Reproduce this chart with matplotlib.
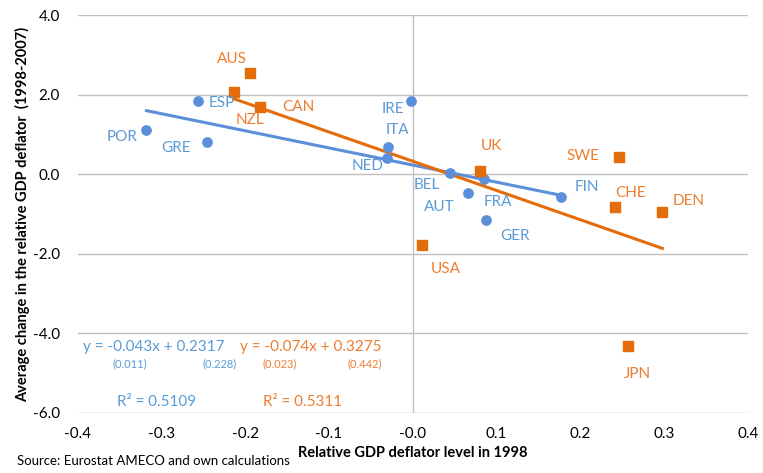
import numpy as np
import matplotlib
matplotlib.use("Agg")
import matplotlib.pyplot as plt

plt.rcParams['font.family'] = ['Lato', 'DejaVu Sans']

# euro area countries (blue) and others (orange)
blue_names = ['POR', 'GRE', 'ESP', 'IRE', 'ITA', 'NED', 'BEL', 'AUT', 'FRA', 'GER', 'FIN']
blue_x = [-0.318, -0.246, -0.256, -0.002, -0.030, -0.031, 0.045, 0.066, 0.085, 0.087, 0.177]
blue_y = [1.11, 0.80, 1.83, 1.83, 0.68, 0.40, 0.03, -0.48, -0.13, -1.16, -0.58]

orange_names = ['AUS', 'NZL', 'CAN', 'UK', 'SWE', 'CHE', 'DEN', 'USA', 'JPN']
orange_x = [-0.194, -0.214, -0.182, 0.080, 0.246, 0.241, 0.298, 0.011, 0.257]
orange_y = [2.54, 2.06, 1.70, 0.075, 0.43, -0.83, -0.95, -1.78, -4.32]

# label offsets in pixels
blue_off = [(-24, -7), (-31, -6), (23, -2), (-18, -8), (10, 17), (-19, -8), (-24, -12), (-29, -14), (14, -23), (29, -16), (26, 10)]
orange_off = [(-18, 14), (16, -28), (38, 0), (12, 25), (-36, 1), (16, 14), (26, 11), (24, -24), (9, -28)]

# trend lines (x in percent)
blue_fit = (-4.3, 0.2317)
orange_fit = (-7.35, 0.3275)

c_blue = '#5B8FD9'
c_orange = '#E46C0A'
t_blue = '#5B9BD5'
t_orange = '#ED7D31'

fig = plt.figure(figsize=(7.63, 4.73), dpi=100)
ax = fig.add_axes([0.102, 0.127, 0.878, 0.841])

ax.set_xlim(-0.4, 0.4)
ax.set_ylim(-6, 4)
ax.set_xticks(np.arange(-0.4, 0.41, 0.1))
ax.set_yticks(np.arange(-6, 4.1, 2))
ax.set_xticklabels([f'{v:.1f}' for v in np.arange(-0.4, 0.41, 0.1)])
ax.set_yticklabels([f'{v:.1f}' for v in np.arange(-6, 4.1, 2)])
ax.tick_params(axis='x', length=0, labelsize=11, pad=10)
ax.tick_params(axis='y', length=0, labelsize=11, pad=13)
ax.grid(axis='y', color='#BFBFBF', lw=1)
ax.axvline(0, color='#BFBFBF', lw=1)
for s in ax.spines.values():
    s.set_visible(False)
ax.set_axisbelow(True)

xb = np.array([min(blue_x), max(blue_x)])
ax.plot(xb, blue_fit[0] * xb + blue_fit[1], color=c_blue, lw=2.2)
xo = np.array([min(orange_x), max(orange_x)])
ax.plot(xo, orange_fit[0] * xo + orange_fit[1], color=c_orange, lw=2.2)

ax.scatter(blue_x, blue_y, s=45, color=c_blue, zorder=3)
ax.scatter(orange_x, orange_y, s=50, marker='s', color=c_orange, zorder=3)

for n, x, y, o in zip(blue_names, blue_x, blue_y, blue_off):
    ax.annotate(n, (x, y), xytext=o, textcoords='offset pixels', ha='center', va='center',
                color=t_blue, fontsize=11)
for n, x, y, o in zip(orange_names, orange_x, orange_y, orange_off):
    ax.annotate(n, (x, y), xytext=o, textcoords='offset pixels', ha='center', va='center',
                color=t_orange, fontsize=11)

fig.text(154 / 763, 1 - 347 / 473, 'y = -0.043x + 0.2317', color=t_blue, fontsize=11, ha='center', va='center')
fig.text(130 / 763, 1 - 364 / 473, '(0.011)', color=t_blue, fontsize=8, ha='center', va='center')
fig.text(220 / 763, 1 - 364 / 473, '(0.228)', color=t_blue, fontsize=8, ha='center', va='center')
fig.text(311 / 763, 1 - 347 / 473, 'y = -0.074x + 0.3275', color=t_orange, fontsize=11, ha='center', va='center')
fig.text(280 / 763, 1 - 364 / 473, '(0.023)', color=t_orange, fontsize=8, ha='center', va='center')
fig.text(365 / 763, 1 - 364 / 473, '(0.442)', color=t_orange, fontsize=8, ha='center', va='center')
fig.text(157 / 763, 1 - 402 / 473, 'R² = 0.5109', color=t_blue, fontsize=11, ha='center', va='center')
fig.text(303 / 763, 1 - 402 / 473, 'R² = 0.5311', color=t_orange, fontsize=11, ha='center', va='center')

ax.set_xlabel('Relative GDP deflator level in 1998', fontsize=10.5, fontweight='bold', labelpad=4)
ax.set_ylabel('Average change in the relative GDP deflator  (1998-2007)', fontsize=10.5,
              fontweight='bold')
ax.yaxis.set_label_coords(-0.072, 0.5)
fig.text(17 / 763, 1 - 461 / 473, 'Source: Eurostat AMECO and own calculations', fontsize=9.5, va='center')

fig.savefig('out.png', dpi=100)
